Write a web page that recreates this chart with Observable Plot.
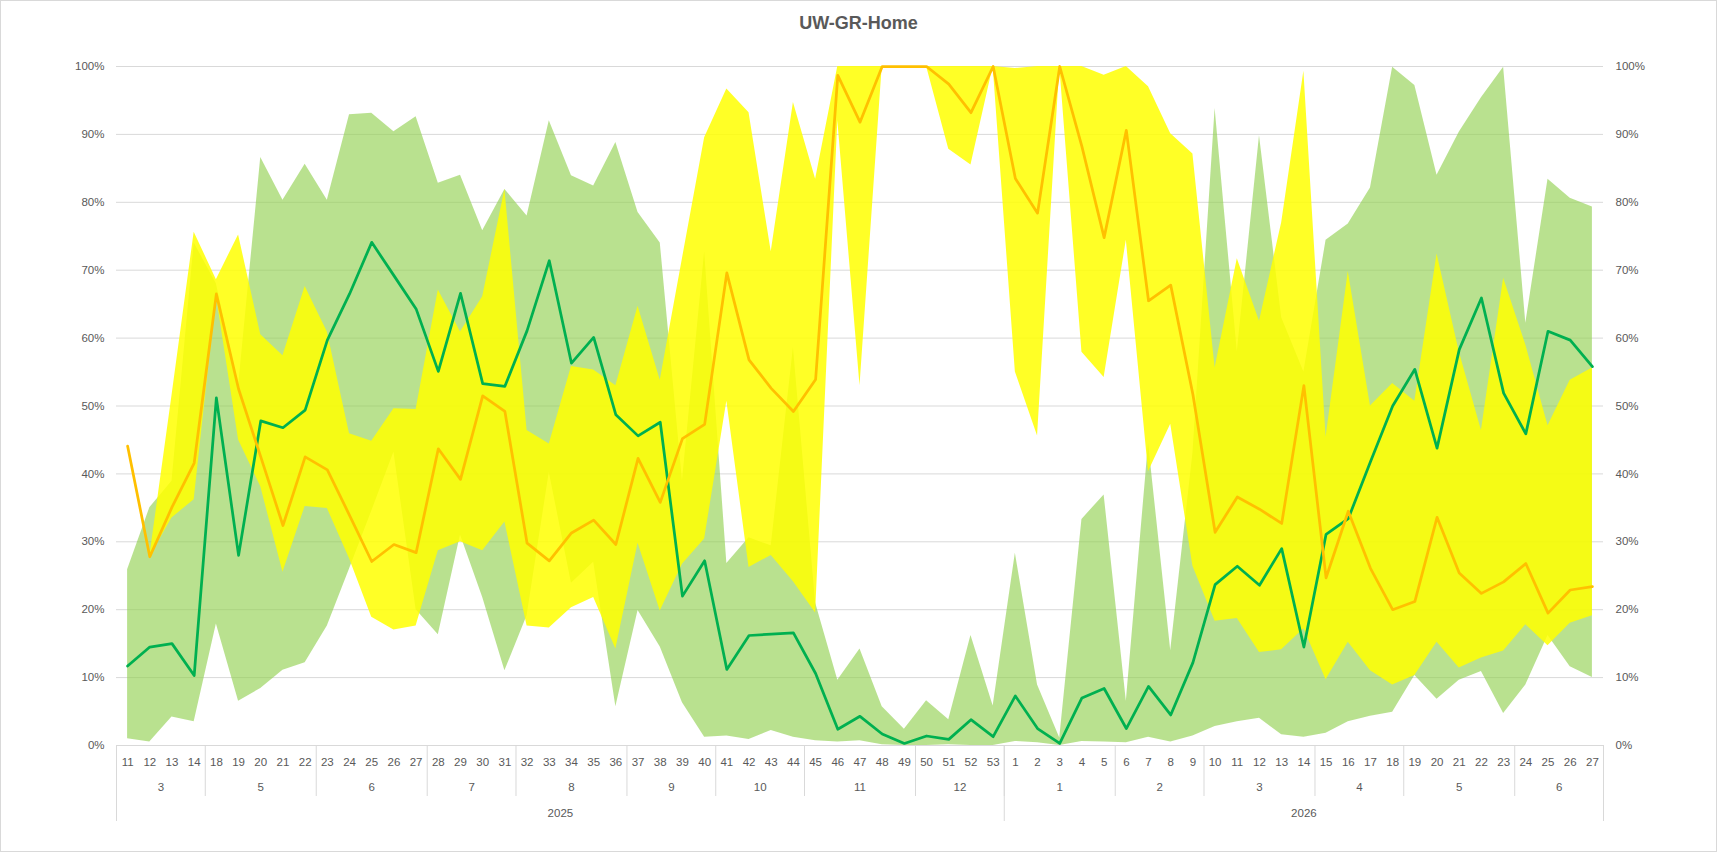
<!DOCTYPE html>
<html>
<head>
<meta charset="utf-8">
<script src="https://cdn.jsdelivr.net/npm/d3@7"></script>
<script src="https://cdn.jsdelivr.net/npm/@observablehq/plot@0.6"></script>
<style>
  html, body { margin: 0; padding: 0; background: #fff; }
  #wrap { position: relative; width: 1717px; height: 852px; overflow: hidden; font-family: "Liberation Sans", Arial, sans-serif; }
  #title { height: 40px; line-height: 46px; text-align: center; font-size: 18px; font-weight: bold; color: #595959; white-space: nowrap; }
  #frame { position: absolute; left: 0; top: 0; width: 1717px; height: 852px; box-sizing: border-box; border: 1px solid #d9d9d9; pointer-events: none; }
</style>
</head>
<body>
<div id="wrap">
  <div id="title">UW-GR-Home</div>
  <div id="chart"></div>
  <div id="frame"></div>
</div>
<script>
// ---- category labels ----
const weeks = [11,12,13,14,18,19,20,21,22,23,24,25,26,27,28,29,30,31,32,33,34,35,36,37,38,39,40,41,42,43,44,45,46,47,48,49,50,51,52,53,
               1,2,3,4,5,6,7,8,9,10,11,12,13,14,15,16,17,18,19,20,21,22,23,24,25,26,27];
const months = [3,3,3,3,5,5,5,5,5,6,6,6,6,6,7,7,7,7,8,8,8,8,8,9,9,9,9,10,10,10,10,11,11,11,11,11,12,12,12,12,
                1,1,1,1,1,2,2,2,2,3,3,3,3,3,4,4,4,4,5,5,5,5,5,6,6,6,6];
const years = [2025,2025,2025,2025,2025,2025,2025,2025,2025,2025,2025,2025,2025,2025,2025,2025,2025,2025,2025,2025,
               2025,2025,2025,2025,2025,2025,2025,2025,2025,2025,2025,2025,2025,2025,2025,2025,2025,2025,2025,2025,
               2026,2026,2026,2026,2026,2026,2026,2026,2026,2026,2026,2026,2026,2026,2026,2026,2026,2026,2026,2026,
               2026,2026,2026,2026,2026,2026,2026];
const yTicks = [0,10,20,30,40,50,60,70,80,90,100];

// ---- series values (percent) ----
const greenLow = [1.0,0.5,4.2,3.5,17.9,6.5,8.4,11.1,12.2,17.6,26.0,34.5,43.2,20.0,16.3,31.0,21.8,11.0,19.1,40.2,
                  23.9,27.0,5.7,19.9,14.5,6.3,1.2,1.4,0.9,2.2,1.2,0.7,0.5,0.7,0.1,0,0,0.1,0,0,
                  0.6,0.4,0,0.6,0.5,0.4,1.2,0.5,1.4,2.8,3.5,4.0,1.6,1.2,1.8,3.5,4.3,4.9,10.3,6.8,
                  9.6,10.9,4.7,8.9,16.2,11.6,10.0];
const greenHigh = [25.9,35.0,38.9,74.0,68.0,52.9,86.6,80.3,85.6,80.3,92.9,93.1,90.4,92.6,82.8,84.0,75.8,81.9,78.0,92.0,
                   83.9,82.4,88.8,78.5,74.0,39.0,72.7,26.8,30.6,29.4,58.6,21.0,9.6,14.2,5.7,2.4,6.6,3.8,16.2,5.8,
                   28.3,8.9,1.1,33.3,36.9,6.5,44.5,14.0,43.0,93.8,58.0,89.8,63.0,55.0,74.4,76.8,82.1,99.9,97.2,84.0,
                   90.3,95.4,99.9,62.2,83.4,80.6,79.3];
const yellowLow = [44.1,27.8,33.5,36.2,66.2,45.0,38.1,25.5,35.2,34.9,27.5,18.9,17.0,17.6,28.7,30.0,28.7,32.9,17.6,17.3,
                   20.3,21.8,14.2,29.8,19.8,26.7,30.4,50.7,26.2,28.0,24.1,19.5,92.0,53.0,100,100,100,87.8,85.5,100,
                   55.0,45.6,100,57.9,54.2,74.4,40.3,47.3,26.4,18.3,18.7,13.7,14.1,17.2,9.7,15.2,11.0,8.9,10.3,15.2,
                   11.4,12.9,13.9,17.8,14.7,18.0,19.1];
const yellowHigh = [44.1,27.8,51.5,75.6,68.6,75.2,60.5,57.4,67.6,60.9,45.9,44.8,49.6,49.5,67.1,60.9,66.1,81.9,46.4,44.4,
                    55.8,55.3,53.0,64.7,53.8,71.7,89.5,96.7,93.2,72.7,94.7,83.4,100,100,100,100,100,100,100,100,
                    99.7,100,100,100,98.7,100,97.0,90.1,87.1,55.6,71.7,62.5,77.0,99.3,45.4,69.8,50.0,53.3,50.7,72.4,
                    58.0,46.4,68.8,59.0,47.1,53.8,55.6];
const greenLine = [11.7,14.5,15.0,10.3,51.2,28.0,47.8,46.8,49.4,59.7,66.5,74.1,69.2,64.3,55.1,66.6,53.3,52.9,61.1,71.4,
                   56.3,60.1,48.7,45.6,47.6,22.0,27.2,11.2,16.2,16.4,16.6,10.6,2.4,4.3,1.7,0.3,1.4,0.9,3.8,1.3,
                   7.3,2.5,0.3,7.0,8.4,2.5,8.7,4.5,12.2,23.7,26.4,23.6,29.0,14.5,31.1,33.4,41.8,50.0,55.4,43.8,
                   58.3,65.9,51.9,45.9,61.0,59.7,55.8];
const orangeLine = [44.1,27.8,35.1,41.6,66.5,52.5,42.5,32.4,42.5,40.6,33.9,27.1,29.6,28.4,43.7,39.2,51.5,49.2,29.8,27.2,
                    31.3,33.2,29.6,42.3,35.8,45.2,47.3,69.6,56.8,52.6,49.2,53.9,98.7,91.8,100,100,100,97.4,93.2,100,
                    83.5,78.4,100,88.2,74.8,90.6,65.5,67.8,51.7,31.4,36.6,34.8,32.7,53.0,24.7,34.5,26.1,20.0,21.2,33.6,
                    25.4,22.4,24.1,26.8,19.5,22.9,23.4];

// ---- table built from the arrays ----
const data = weeks.map((w, i) => ({
  i, week: w, month: months[i], year: years[i],
  gLo: greenLow[i] / 100, gHi: greenHigh[i] / 100,
  yLo: yellowLow[i] / 100, yHi: yellowHigh[i] / 100,
  g: greenLine[i] / 100, o: orangeLine[i] / 100
}));

function runs(keyFn, labelFn) {
  const out = [];
  data.forEach((d, i) => {
    const k = keyFn(d);
    const last = out[out.length - 1];
    if (last && last.key === k) last.end = i;
    else out.push({key: k, start: i, end: i, label: labelFn(d)});
  });
  out.forEach(r => r.center = (r.start + r.end) / 2);
  return out;
}
const monthGroups = runs(d => d.year + "-" + d.month, d => String(d.month));
const yearGroups = runs(d => d.year, d => String(d.year));
const monthBounds = monthGroups.map(r => r.start - 0.5);
const yearBounds = yearGroups.map(r => r.start - 0.5).concat([data.length - 0.5]);

const grey = "#595959";
const lineCol = "#d9d9d9";

const chart = Plot.plot({
  width: 1717,
  height: 812,
  marginTop: 26,
  marginBottom: 107,
  marginLeft: 116,
  marginRight: 114,
  style: {fontFamily: '"Liberation Sans", Arial, sans-serif', fontSize: "11.5px", color: grey, background: "transparent", overflow: "visible"},
  x: {type: "linear", domain: [-0.5, data.length - 0.5], axis: null, label: null},
  y: {domain: [0, 1], axis: null, label: null},
  marks: [
    Plot.gridY(yTicks.map(t => t / 100), {stroke: lineCol, strokeOpacity: 1, strokeWidth: 1}),
    Plot.axisY(yTicks.map(t => t / 100), {anchor: "left", tickSize: 0, tickPadding: 12, tickFormat: d => Math.round(d * 100) + "%", fill: grey, label: null}),
    Plot.axisY(yTicks.map(t => t / 100), {anchor: "right", tickSize: 0, tickPadding: 12, tickFormat: d => Math.round(d * 100) + "%", fill: grey, label: null}),
    // separators
    Plot.axisX(monthBounds, {anchor: "bottom", tickSize: 51, stroke: lineCol, fill: "none", label: null}),
    Plot.axisX(yearBounds, {anchor: "bottom", tickSize: 76, stroke: lineCol, fill: "none", label: null}),
    // bands
    Plot.areaY(data, {x: "i", y1: "gLo", y2: "gHi", fill: "#92d050", fillOpacity: 0.64}),
    Plot.areaY(data, {x: "i", y1: "yLo", y2: "yHi", fill: "#ffff00", fillOpacity: 0.85}),
    // lines
    Plot.lineY(data, {x: "i", y: "g", stroke: "#00b050", strokeWidth: 2.75}),
    Plot.lineY(data, {x: "i", y: "o", stroke: "#ffc000", strokeWidth: 2.75}),
    // category labels
    Plot.text(data, {x: "i", text: d => String(d.week), frameAnchor: "bottom", dy: 17, lineAnchor: "middle", fill: grey}),
    Plot.text(monthGroups, {x: "center", text: "label", frameAnchor: "bottom", dy: 42, lineAnchor: "middle", fill: grey}),
    Plot.text(yearGroups, {x: "center", text: "label", frameAnchor: "bottom", dy: 68, lineAnchor: "middle", fill: grey})
  ]
});
document.getElementById("chart").appendChild(chart);
</script>
</body>
</html>
